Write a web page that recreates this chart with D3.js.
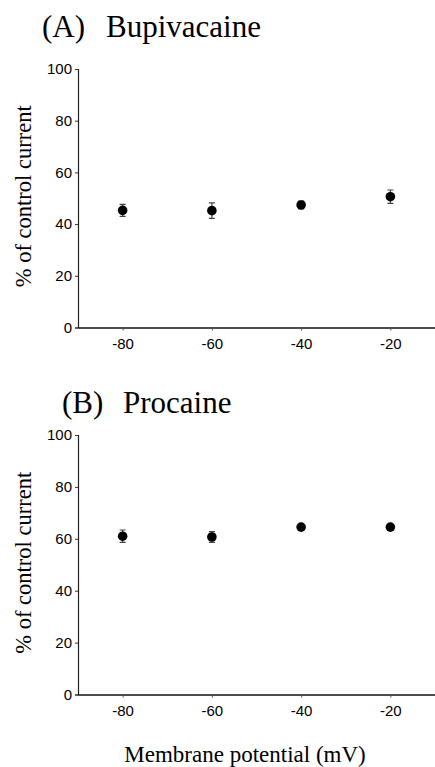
<!DOCTYPE html>
<html>
<head>
<meta charset="utf-8">
<script src="https://cdn.jsdelivr.net/npm/d3@7"></script>
<style>
  body { margin: 0; background: #fff; }
  svg { display: block; }
  .tick text { font-family: "Liberation Sans", Arial, sans-serif; }
  .title, .ylab, .xlab { font-family: "Liberation Serif", "Times New Roman", serif; fill: #000; }
</style>
</head>
<body>
<svg width="435" height="767"></svg>
<script>

// data
const potentials = [-80, -60, -40, -20];
const bupivacaine = [45.3, 45.2, 47.4, 50.6];
const bupivacaine_err = [2.3, 3.0, 1.5, 2.6];
const procaine = [61.0, 60.7, 64.5, 64.5];
const procaine_err = [2.4, 2.1, 1.0, 1.0];
const y_ticks = [0, 20, 40, 60, 80, 100];
const x_ticks = [-80, -60, -40, -20];

const svg = d3.select("svg");

const x = d3.scaleLinear().domain([-90, -10]).range([78, 435]);

const panels = [
  {tag: "(A)", name: "Bupivacaine", values: bupivacaine, err: bupivacaine_err,
   top: 69, bottom: 327.5, titleY: 37, tagX: 42, nameX: 106},
  {tag: "(B)", name: "Procaine", values: procaine, err: procaine_err,
   top: 435, bottom: 694.5, titleY: 413, tagX: 62, nameX: 123}
];

panels.forEach(p => {

  const y = d3.scaleLinear().domain([0, 100]).range([p.bottom, p.top]);
  const g = svg.append("g");

  // title
  g.append("text").attr("class", "title")
    .attr("x", p.tagX).attr("y", p.titleY)
    .style("font-size", "31px")
    .text(p.tag)
  g.append("text").attr("class", "title")
    .attr("x", p.nameX).attr("y", p.titleY)
    .style("font-size", "31px")
    .text(p.name)

  // y axis
  const ya = g.append("g")
    .attr("transform", `translate(${x(-90)},0)`)
    .call(d3.axisLeft(y).tickValues(y_ticks).tickSize(3).tickPadding(3).tickFormat(d => String(d)))
  ya.select(".domain").attr("stroke", "#222").attr("stroke-width", 1.2)
  ya.selectAll(".tick line").attr("stroke", "#333")
  ya.selectAll(".tick text").style("font-size", "15px").attr("fill", "#000")

  // x axis
  const xa = g.append("g")
    .attr("transform", `translate(0,${p.bottom})`)
    .call(d3.axisBottom(x).tickValues(x_ticks).tickSize(3).tickPadding(8).tickSizeOuter(0)
      .tickFormat(d => String(d)))
  xa.select(".domain").attr("stroke", "#111").attr("stroke-width", 1.6)
  xa.selectAll(".tick line").attr("stroke", "#555")
  xa.selectAll(".tick text").style("font-size", "15px").attr("fill", "#000")

  // y label
  g.append("text").attr("class", "ylab")
    .attr("transform", `translate(31,${(p.top + p.bottom) / 2 - 2}) rotate(-90)`)
    .attr("text-anchor", "middle")
    .style("font-size", "22.5px")
    .text("% of control current")

  const pts = potentials.map((v, i) => ({x: v, y: p.values[i], e: p.err[i]}));

  // error bars
  g.selectAll(".err").data(pts).enter().append("path")
    .attr("class", "err")
    .attr("d", d => {
      const cx = x(d.x), y0 = y(d.y - d.e), y1 = y(d.y + d.e);
      return `M${cx - 3},${y0}H${cx + 3}M${cx},${y0}V${y1}M${cx - 3},${y1}H${cx + 3}`;
    })
    .attr("stroke", "#444")
    .attr("stroke-width", 1.2)
    .attr("fill", "none")

  // points
  g.selectAll(".pt").data(pts).enter().append("circle")
    .attr("class", "pt")
    .attr("cx", d => x(d.x))
    .attr("cy", d => y(d.y))
    .attr("r", 4.8)
    .attr("fill", "#000")
});

// shared x label
svg.append("text").attr("class", "xlab")
  .attr("x", 245).attr("y", 762)
  .attr("text-anchor", "middle")
  .style("font-size", "23px")
  .text("Membrane potential (mV)")

</script>
</body>
</html>
